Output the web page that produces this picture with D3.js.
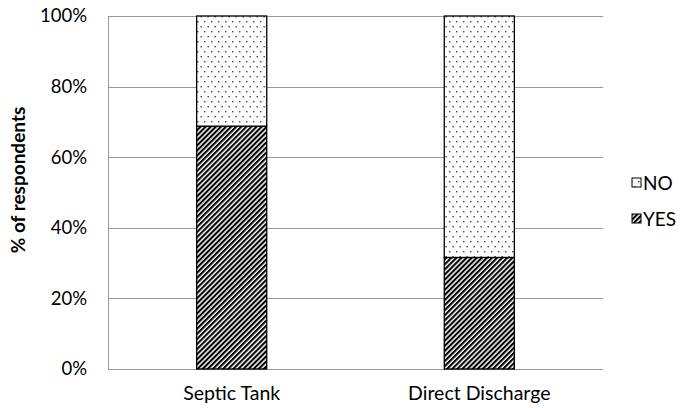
<!DOCTYPE html>
<html><head><meta charset="utf-8">
<script src="https://d3js.org/d3.v7.min.js"></script>
<style>body{margin:0;background:#fff}svg{display:block}text{font-family:Lato,"Open Sans",sans-serif}</style>
</head><body><div id="c"></div>
<script>
const categories = ["Septic Tank", "Direct Discharge"];
const yesValues = [68.8, 31.6];
const noValues = [31.2, 68.4];
const seriesNames = ["NO", "YES"];
const yTicks = [0, 20, 40, 60, 80, 100];

const W = 685, H = 408;
const m = {left:108, right:82, top:16, bottom:39};
const svg = d3.select("#c").append("svg").attr("width", W).attr("height", H);
const defs = svg.append("defs");
const hatch = defs.append("pattern").attr("id","hatch").attr("patternUnits","userSpaceOnUse")
  .attr("width",3.6).attr("height",3.6).attr("patternTransform","rotate(45)");
hatch.append("rect").attr("width",3.6).attr("height",3.6).attr("fill","#fff");
hatch.append("rect").attr("width",2.1).attr("height",3.6).attr("fill","#000");
const dots = defs.append("pattern").attr("id","dots").attr("patternUnits","userSpaceOnUse")
  .attr("width",7).attr("height",10);
dots.append("rect").attr("width",7).attr("height",10).attr("fill","#fff");
dots.append("rect").attr("x",1).attr("y",1).attr("width",1.4).attr("height",1.4).attr("fill","#444");
dots.append("rect").attr("x",4.5).attr("y",6).attr("width",1.4).attr("height",1.4).attr("fill","#444");

const x = d3.scaleBand().domain(categories).range([m.left, W - m.right]).paddingInner(0.717).paddingOuter(0.358);
const y = d3.scaleLinear().domain([0,100]).range([H - m.bottom, m.top]);

// gridlines
svg.append("g").selectAll("line").data(yTicks).join("line")
  .attr("x1", m.left).attr("x2", W - m.right)
  .attr("y1", d => Math.round(y(d))+0.5).attr("y2", d => Math.round(y(d))+0.5)
  .attr("stroke","#999").attr("stroke-width",1);
// y axis line
svg.append("line").attr("x1", m.left+0.5).attr("x2", m.left+0.5)
  .attr("y1", m.top).attr("y2", H - m.bottom).attr("stroke","#999");

// tick labels
const yAxis = d3.axisLeft(y).tickValues(yTicks).tickFormat(d => d + "%").tickSize(0).tickPadding(21);
const ga = svg.append("g").attr("transform", `translate(${m.left},0)`).call(yAxis);
ga.select(".domain").remove();
ga.selectAll("text").attr("font-size",18.5).attr("fill","#000").style("font-family","Lato,sans-serif");

// bars
const g = svg.append("g");
categories.forEach((c, i) => {
  const bx = x(c), bw = x.bandwidth();
  g.append("rect").attr("x", bx).attr("width", bw)
    .attr("y", y(yesValues[i])).attr("height", y(0) - y(yesValues[i]))
    .attr("fill","url(#hatch)").attr("stroke","#000").attr("stroke-width",1.3);
  g.append("rect").attr("x", bx).attr("width", bw)
    .attr("y", y(yesValues[i] + noValues[i])).attr("height", y(yesValues[i]) - y(yesValues[i] + noValues[i]))
    .attr("fill","url(#dots)").attr("stroke","#000").attr("stroke-width",1.3);
});

// x labels
const xAxis = d3.axisBottom(x).tickSize(0).tickPadding(17);
const gx = svg.append("g").attr("transform", `translate(0,${H - m.bottom})`).call(xAxis);
gx.select(".domain").remove();
gx.selectAll("text").attr("font-size",19.5).attr("fill","#000").style("font-family","Lato,sans-serif");

// y title
svg.append("text").attr("transform", `translate(25,180) rotate(-90)`)
  .attr("text-anchor","middle").attr("font-size",19).attr("font-weight","bold").text("% of respondents");

// legend
const leg = svg.append("g");
const fills = {"NO":"url(#dots)", "YES":"url(#hatch)"};
seriesNames.forEach((s, i) => {
  const ly = 183 + i*36;
  leg.append("rect").attr("x", 632).attr("y", ly - 5).attr("width", 9).attr("height", 9)
    .attr("fill", fills[s]).attr("stroke","#000").attr("stroke-width",1);
  leg.append("text").attr("x", 643).attr("y", ly).attr("dy","0.35em").attr("font-size",19).text(s);
});
</script></body></html>
